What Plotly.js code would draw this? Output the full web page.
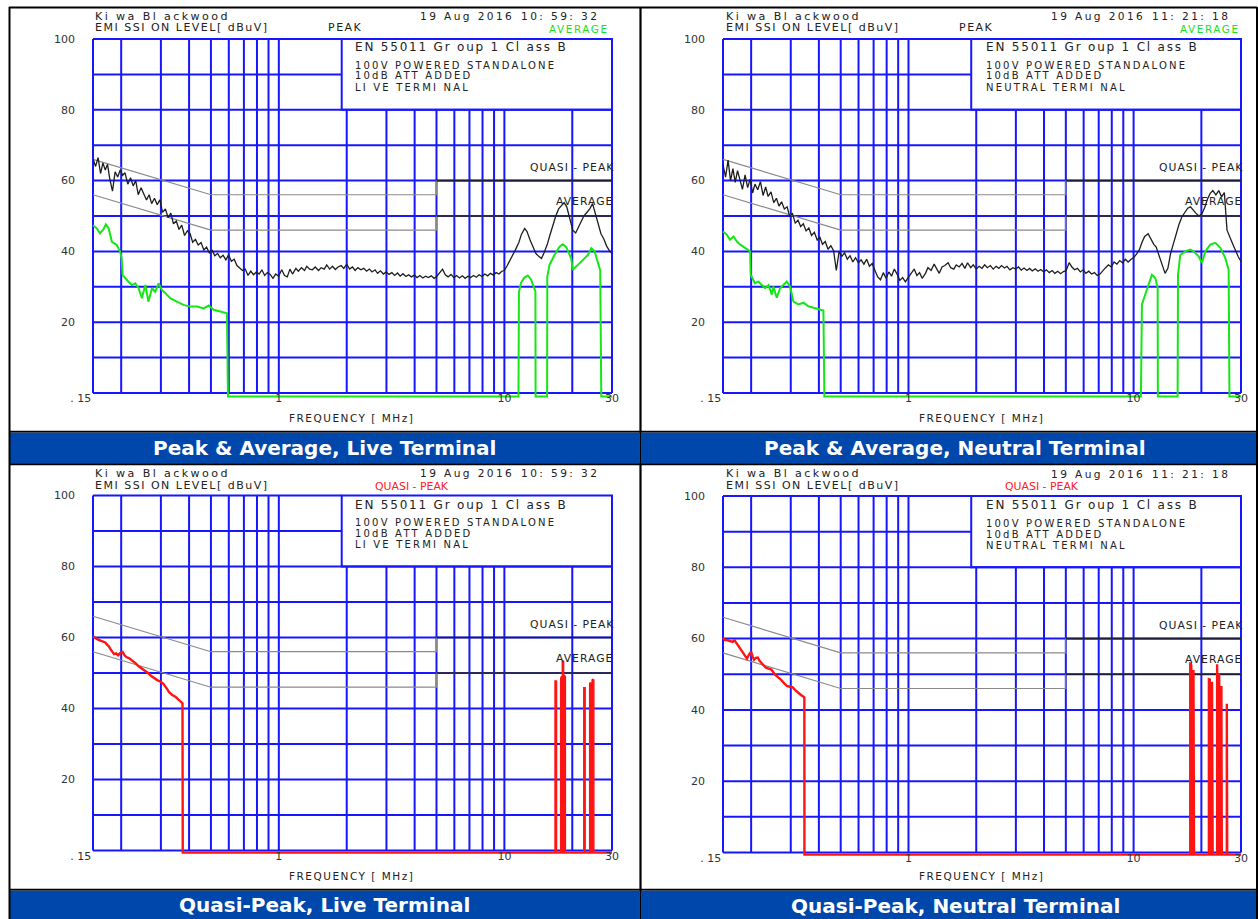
<!DOCTYPE html>
<html><head><meta charset="utf-8">
<script src="https://cdn.plot.ly/plotly-3.0.1.min.js"></script>
<style>
html,body{margin:0;padding:0;background:#fff}#chart{width:1258px;height:919px}
text.annotation-text[style*="font-size: 11px"]{letter-spacing:1.5px}
text.annotation-text[style*="font-size: 11.1px"]{letter-spacing:2.4px}
text.annotation-text[style*="font-size: 10.6px"]{letter-spacing:2.4px}
text.annotation-text[style*="font-size: 10.4px"]{letter-spacing:1.6px}
text.annotation-text[style*="font-size: 12px"]{letter-spacing:1.8px}
text.annotation-text[style*="font-size: 10px"]{letter-spacing:2.2px}
text.annotation-text[style*="font-size: 10.5px"]{letter-spacing:1.5px}
text.annotation-text[style*="font-size: 10.8px"]{letter-spacing:1px}
</style>
</head><body><div id="chart"></div>
<script>
// ---------------- DATA ----------------
const peakFreq=[0.150,0.154,0.158,0.162,0.166,0.170,0.174,0.178,0.183,0.188,0.193,0.198,0.203,0.208,0.214,0.220,0.226,0.232,0.238,0.245,0.252,0.259,0.266,0.273,0.281,0.289,0.297,0.305,0.314,0.323,0.332,0.341,0.351,0.361,0.371,0.382,0.393,0.404,0.415,0.427,0.439,0.452,0.465,0.478,0.492,0.506,
0.520,0.535,0.550,0.566,0.582,0.599,0.616,0.634,0.652,0.671,0.690,0.710,0.730,0.751,0.773,0.795,0.818,0.841,0.865,0.890,0.916,0.942,0.969,0.997,
1.03,1.06,1.09,1.12,1.15,1.19,1.22,1.26,1.30,1.33,1.37,1.41,1.45,1.50,1.54,1.59,1.63,1.68,1.73,1.78,1.83,1.89,1.94,2.00,
2.06,2.12,2.18,2.24,2.31,2.38,2.45,2.52,2.59,2.67,2.74,2.82,2.91,2.99,3.08,3.17,3.26,3.36,3.45,3.55,3.66,3.76,3.87,3.99,4.10,4.22,4.35,4.47,4.60,4.74,4.88,5.02,
5.17,5.32,5.47,5.63,5.80,5.97,6.14,6.32,6.51,6.70,6.89,7.09,7.30,7.51,7.73,7.96,8.19,8.43,8.68,8.93,9.19,9.46,9.74,10.0,
10.3,10.6,10.9,11.2,11.6,11.9,12.3,12.6,13.0,13.4,13.8,14.2,14.6,15.0,15.5,15.9,16.4,16.9,17.4,17.9,18.4,18.9,19.5,20.1,20.7,21.3,21.9,22.5,23.2,23.9,24.6,25.3,26.0,26.8,27.6,28.4,29.2,30.0];

const peakLive=[66.2,64.0,66.5,62.0,65.0,63.0,64.6,60.5,57.0,62.5,61.0,63.0,61.5,62.2,59.0,60.8,58.5,60.0,56.0,58.0,56.2,54.5,56.0,53.5,55.0,53.2,54.6,51.0,52.0,49.5,50.8,47.8,48.6,46.2,47.4,44.5,45.8,45.0,42.6,43.4,41.8,42.5,40.4,41.2,39.6,40.3,
38.8,39.4,38.2,38.9,37.6,39.0,37.2,37.8,36.0,35.4,34.6,35.0,33.2,34.4,33.4,34.2,33.6,34.8,33.2,34.0,33.5,32.4,33.6,33.0,
34.8,33.2,32.8,35.0,33.6,35.2,34.4,35.4,34.6,35.8,35.0,34.8,35.6,34.6,35.4,35.0,36.2,35.0,35.8,34.9,35.6,36.0,35.2,36.4,
35.0,35.6,34.6,35.4,34.8,35.2,34.4,35.0,34.2,34.8,33.8,34.5,33.6,34.2,33.5,34.0,33.2,33.9,33.0,33.7,32.9,33.4,32.8,33.3,32.6,33.2,32.5,33.0,32.6,33.1,32.4,33.0,
34.0,35.0,33.4,32.8,33.5,32.6,33.2,32.5,33.1,32.4,33.0,32.6,33.2,32.7,33.4,32.9,33.6,33.1,33.8,33.3,34.0,33.6,34.4,34.6,
36.0,37.4,38.8,40.5,42.6,44.8,46.5,45.6,43.2,41.5,39.4,38.6,38.0,39.6,42.0,44.5,47.5,50.0,52.0,53.0,53.8,52.6,49.5,46.0,45.2,46.8,48.6,50.0,51.0,52.0,53.5,50.5,47.4,45.0,43.5,41.5,40.2,39.5];

const peakNeutral=[64.5,61.0,65.8,60.0,63.4,59.5,62.8,60.0,57.5,61.6,58.0,60.4,56.5,59.0,57.4,59.7,55.8,58.2,55.5,56.8,53.8,55.0,52.8,54.0,52.0,52.6,49.8,50.8,48.0,48.8,47.0,47.8,45.8,46.6,44.5,45.4,43.2,44.0,42.0,42.8,40.6,41.6,40.2,34.6,40.0,38.6,
39.6,37.8,38.8,37.0,38.2,36.8,37.6,36.4,37.8,35.8,36.6,34.6,32.8,32.0,34.0,32.4,34.2,33.0,35.0,33.6,31.8,32.6,31.4,32.6,
34.0,35.0,33.2,34.0,32.4,33.8,35.4,34.6,36.4,35.2,33.8,35.6,36.0,36.8,35.4,35.0,36.2,35.6,36.6,35.2,36.8,35.4,36.2,35.0,
35.8,35.2,36.2,35.4,36.0,35.0,35.8,35.2,36.0,35.3,35.8,34.8,35.4,35.0,35.6,34.7,35.3,34.6,35.2,34.5,35.1,34.4,34.9,34.2,34.8,34.0,34.6,33.8,34.4,33.7,34.3,34.6,
36.8,35.6,34.8,35.2,34.2,34.8,33.8,34.4,33.6,34.0,33.2,33.6,34.6,35.4,36.2,35.6,37.0,36.4,37.4,36.8,37.8,37.0,37.8,38.2,
39.2,40.4,42.6,44.2,45.0,43.6,42.0,41.2,38.8,36.4,33.8,35.2,39.4,42.0,45.4,47.6,49.8,51.2,52.2,52.6,51.6,50.8,50.0,50.6,52.4,54.8,56.4,57.2,56.0,57.2,55.4,56.6,46.0,43.8,42.0,40.2,38.4,37.2];

const avgLiveFreq=[0.150,0.156,0.161,0.167,0.171,0.176,0.182,0.191,0.198,0.201,0.203,0.208,0.215,0.223,0.231,0.239,0.247,0.256,0.264,0.274,0.283,0.293,0.303,0.314,0.330,0.353,0.378,0.405,0.434,0.464,0.489,0.514,0.550,0.589,0.595,
11.55,11.60,11.86,12.27,12.70,13.14,13.50,13.73,13.75,15.47,15.50,15.85,16.68,17.56,18.16,18.80,19.79,20.10,21.18,22.29,23.47,24.28,25.12,26.44,26.60,26.89,30.0];
const avgLive=[47.4,46.5,45.1,46.3,47.6,46.5,42.7,41.8,39.9,38.0,33.3,32.4,31.5,30.5,31.0,29.6,26.8,30.5,25.8,29.6,28.6,31.0,29.1,28.2,26.8,25.8,24.9,24.4,24.4,23.9,24.7,23.5,23.0,22.5,-1,
-1,28.5,31.2,32.6,33.2,32.0,29.6,28.6,-1,-1,32.9,36.2,39.0,41.3,42.0,41.2,38.0,34.8,36.2,37.6,39.0,40.9,40.0,35.2,34.8,-1,-1];

const avgNeutralFreq=[0.150,0.156,0.161,0.167,0.173,0.179,0.188,0.198,0.199,0.208,0.215,0.223,0.231,0.239,0.247,0.251,0.260,0.269,0.278,0.288,0.298,0.308,0.324,0.342,0.359,0.378,0.398,0.419,0.423,
10.78,10.89,11.27,11.66,12.06,12.49,12.79,12.82,15.69,15.75,16.12,16.97,17.86,18.48,19.45,20.13,20.83,21.91,23.07,24.28,25.55,26.44,26.66,30.0];
const avgNeutral=[45.6,44.7,43.3,44.2,42.8,41.9,41.0,40.0,33.4,31.0,31.5,30.5,29.6,30.5,27.8,30.1,26.9,29.6,30.5,31.5,30.1,25.9,25.0,25.5,24.5,24.1,23.6,23.3,-1,
-1,25.0,27.8,30.6,33.4,32.5,29.7,-1,-1,33.4,39.0,40.0,40.5,40.0,38.6,36.7,40.0,41.9,42.4,41.0,38.1,34.8,-1,-1];

const qpLiveFreq=[0.150,0.154,0.158,0.162,0.166,0.170,0.173,0.176,0.179,0.183,0.186,0.190,0.194,0.198,0.203,0.207,0.211,0.218,0.225,0.232,0.239,0.247,0.255,0.263,0.271,0.280,0.289,0.298,0.307,0.317,0.327,0.337,0.348,0.359,0.368,0.374,0.375,
16.85,16.85,16.95,16.95,17.85,17.85,18.0,18.0,18.15,18.15,18.22,18.22,18.35,18.35,18.55,18.55,22.6,22.6,22.7,22.7,24.0,24.0,24.2,24.2,24.6,24.6,24.8,24.8,30.0];
const qpLive=[60.3,59.8,59.4,59.1,58.9,58.6,58.0,57.6,56.8,55.9,55.3,55.5,55.0,55.6,55.9,55.0,54.5,54.1,53.5,52.7,51.9,51.3,50.8,50.0,49.2,48.5,48.0,47.6,47.0,45.8,44.5,43.8,43.3,42.5,41.9,41.5,-0.6,
-0.6,47.6,47.6,-0.6,-0.6,48.5,49.0,-0.6,-0.6,53.2,53.2,-0.6,-0.6,49.2,49.0,-0.6,-0.6,45.7,45.7,-0.6,-0.6,47.0,47.2,-0.6,-0.6,48.0,48.2,-0.6,-0.6];

const qpNeutralFreq=[0.150,0.153,0.156,0.160,0.1656,0.169,0.172,0.1758,0.180,0.1843,0.188,0.1917,0.196,0.200,0.203,0.206,0.210,0.2143,0.218,0.223,0.2319,0.239,0.246,0.2562,0.264,0.2718,0.280,0.2885,0.297,0.3061,0.315,0.3248,0.333,0.342,0.3447,0.345,
17.85,17.85,17.95,18.05,18.05,18.45,18.45,18.55,18.55,21.6,21.6,21.8,21.8,22.3,22.3,22.45,22.45,23.5,23.5,23.65,23.65,24.0,24.0,24.15,24.15,24.55,24.55,24.65,24.65,25.95,25.95,26.05,26.05,30.0];
const qpNeutral=[60.2,59.6,59.6,59.3,59.1,59.5,58.8,58.1,57.2,56.3,55.2,54.4,55.6,56.3,55.0,54.1,54.6,54.7,53.8,53.0,51.9,51.6,51.3,49.8,49.2,48.4,47.5,46.7,46.5,46.3,45.5,44.7,44.2,43.7,43.5,-0.6,
-0.6,53.0,53.0,52.5,-0.6,-0.6,51.2,51.2,-0.6,-0.6,48.6,48.5,-0.6,-0.6,47.9,47.9,-0.6,-0.6,52.8,52.8,-0.6,-0.6,50.2,50.2,-0.6,-0.6,46.7,46.7,-0.6,-0.6,41.7,41.7,-0.6,-0.6];

const limitFreq=[0.15,0.5,5,5,30];
const qpLimit=[66,56,56,60,60];
const avLimit=[56,46,46,50,50];

const gridFreq=[0.15,0.2,0.3,0.4,0.5,0.6,0.7,0.8,0.9,1,2,3,4,5,6,7,8,9,10,20,30];
const gridLevel=[0,10,20,30,40,50,60,70,80,90,100];
const xTickVals=[0.15,1,10,30];
const xTickText=['. 15','1','10','30'];
const yTickVals=[20,40,60,80,100];

const panelTitles=['Peak & Average, Live Terminal','Peak & Average, Neutral Terminal','Quasi-Peak, Live Terminal','Quasi-Peak, Neutral Terminal'];
const scanTimes=['10: 59: 32','11: 21: 18','10: 59: 32','11: 21: 18'];
const terminals=['LI VE TERMI NAL','NEUTRAL TERMI NAL','LI VE TERMI NAL','NEUTRAL TERMI NAL'];

// ---------------- LAYOUT ----------------
const W=1258,H=919;
const BLUE='#1717ff';
const FONT='DejaVu Sans';
const L=Math.log10;
const boxF=1.9;

const panels=[
 {x0:93,x1:612,yT:39,yB:393,ox:0,oy:0,top:true,series:[[peakFreq,peakLive,'#1e1e1e',1.3],[avgLiveFreq,avgLive,'#16e616',2]]},
 {x0:723,x1:1241,yT:39,yB:393,ox:630.5,oy:0,top:true,series:[[peakFreq,peakNeutral,'#1e1e1e',1.3],[avgNeutralFreq,avgNeutral,'#16e616',2]]},
 {x0:93,x1:612,yT:495.5,yB:850.5,ox:0,oy:457.5,top:false,series:[[qpLiveFreq,qpLive,'#ff1414',2.4]]},
 {x0:723,x1:1241,yT:496,yB:852.5,ox:630.5,oy:458,top:false,series:[[qpNeutralFreq,qpNeutral,'#ff1414',2.4]]}
];

const data=[];
const layout={width:W,height:H,margin:{l:0,r:0,t:0,b:0},paper_bgcolor:'#fff',plot_bgcolor:'rgba(0,0,0,0)',showlegend:false,shapes:[],annotations:[],font:{family:FONT}};
const px=x=>x/W, py=y=>1-y/H;

function ann(text,x,y,opt){
  layout.annotations.push(Object.assign({text:text,x:px(x),y:py(y),xref:'paper',yref:'paper',showarrow:false,xanchor:'left',yanchor:'middle',font:{family:FONT,size:11,color:'#222'}},opt||{}));
}
const f=(s,c)=>({family:FONT,size:s,color:c||'#222'});

panels.forEach((p,i)=>{
  const n=i===0?'':String(i+1);
  const xr='x'+n, yr='y'+n;
  const padX=4,padB=7,padT=3;
  const ppd=(p.x1-p.x0)/(L(30)-L(0.15));
  const ppu=(p.yB-p.yT)/100;
  layout['xaxis'+n]={type:'log',range:[L(0.15)-padX/ppd,L(30)+padX/ppd],domain:[(p.x0-padX)/W,(p.x1+padX)/W],anchor:yr,
    showgrid:false,zeroline:false,showline:false,ticks:'',tickvals:xTickVals,
    ticktext:xTickText.map((t,k)=>k===0?t+'\u00a0'.repeat(7):t),
    tickfont:{family:FONT,size:11,color:'#333'},ticklabelstandoff:-10,fixedrange:true};
  layout['yaxis'+n]={range:[-padB/ppu,100+padT/ppu],domain:[1-(p.yB+padB)/H,1-(p.yT-padT)/H],anchor:xr,
    showgrid:false,zeroline:false,showline:false,ticks:'',tickvals:yTickVals,
    tickfont:{family:FONT,size:11,color:'#333'},ticklabelstandoff:13,fixedrange:true};

  gridFreq.forEach(g=>{
    layout.shapes.push({type:'line',xref:xr,yref:yr,x0:g,x1:g,y0:0,y1:g<boxF?100:80,line:{color:BLUE,width:2},layer:'below'});
  });
  gridLevel.forEach(v=>{
    layout.shapes.push({type:'line',xref:xr,yref:yr,x0:0.15,x1:v>80?boxF:30,y0:v,y1:v,line:{color:BLUE,width:2},layer:'below'});
  });
  layout.shapes.push({type:'rect',xref:xr,yref:yr,x0:boxF,x1:30,y0:80,y1:100,line:{color:BLUE,width:2},fillcolor:'rgba(0,0,0,0)',layer:'below'});

  [qpLimit,avLimit].forEach(lim=>{
    data.push({x:limitFreq,y:lim,xaxis:xr,yaxis:yr,mode:'lines',line:{color:'#8a8a8a',width:1.2},hoverinfo:'skip'});
    data.push({x:limitFreq.slice(3),y:lim.slice(3),xaxis:xr,yaxis:yr,mode:'lines',line:{color:'#1c1c3a',width:1.6},hoverinfo:'skip'});
  });
  p.series.forEach(s=>{
    data.push({x:s[0],y:s[1],xaxis:xr,yaxis:yr,mode:'lines',line:{color:s[2],width:s[3]},hoverinfo:'skip'});
  });

  layout.annotations.push({text:'QUASI - PEAK',xref:xr+' domain',yref:yr,x:1,y:63.6,xanchor:'right',yanchor:'middle',xshift:0,showarrow:false,font:f(10.8)});
  layout.annotations.push({text:'AVERAGE',xref:xr+' domain',yref:yr,x:1,y:54.0,xanchor:'right',yanchor:'middle',xshift:-1,showarrow:false,font:f(10.8)});

  const ox=p.ox, oy=p.oy;
  ann('Ki wa Bl ackwood',93+ox,16+oy,{font:f(11.1)});
  ann('EMI SSI ON LEVEL[ dBuV]',93+ox,27.5+oy);
  if(p.top){
    ann('PEAK',345+ox,28+oy,{xanchor:'center'});
    ann('AVERAGE',611+ox,29+oy,{xanchor:'right',font:f(10.4,'#22dd22')});
  } else {
    ann('QUASI - PEAK',411.5+ox,28.5+oy,{xanchor:'center',font:f(10.9,'#ff2020')});
  }
  ann('19 Aug 2016',418+ox,15.8+oy,{font:f(10.6)});
  ann(scanTimes[i],601+ox,15.8+oy,{xanchor:'right',font:f(10.6)});
  ann('EN 55011 Gr oup 1 Cl ass B',353+ox,47+oy,{font:f(12)});
  ann('100V POWERED STANDALONE',353+ox,65+oy,{font:f(10)});
  ann('10dB ATT ADDED',353+ox,76+oy,{font:f(10)});
  ann(terminals[i],353+ox,87+oy,{font:f(10)});
  ann('FREQUENCY [ MHz]',351+ox,418+oy,{xanchor:'center',font:f(10.5)});
  ann('<b>'+panelTitles[i]+'</b>',324.5+ox,447.5+oy,{xanchor:'center',font:f(20,'#ffffff')});
});

function prect(x0,y0,x1,y1,fill){
  layout.shapes.push({type:'rect',xref:'paper',yref:'paper',x0:px(x0),x1:px(x1),y0:py(y1),y1:py(y0),fillcolor:fill,line:{width:0},layer:'below'});
}
function pline(x0,y0,x1,y1,w){
  layout.shapes.push({type:'line',xref:'paper',yref:'paper',x0:px(x0),x1:px(x1),y0:py(y0),y1:py(y1),line:{color:'#000',width:w}});
}
prect(10,432.5,639.5,463.5,'#0047ab');
prect(641.5,432.5,1257,463.5,'#0047ab');
prect(10,890.5,639.5,919,'#0047ab');
prect(641.5,890.5,1257,919,'#0047ab');
pline(9,7.5,1257,7.5,2);
pline(9.5,7,9.5,919,2);
pline(1257,7,1257,919,2);
pline(640.5,7,640.5,919,2.2);
pline(9,464.2,1257,464.2,2);
pline(9,431.6,1257,431.6,1.6);
pline(9,889.6,1257,889.6,1.6);

Plotly.newPlot('chart',data,layout,{staticPlot:true,displayModeBar:false});
</script>
</body></html>
